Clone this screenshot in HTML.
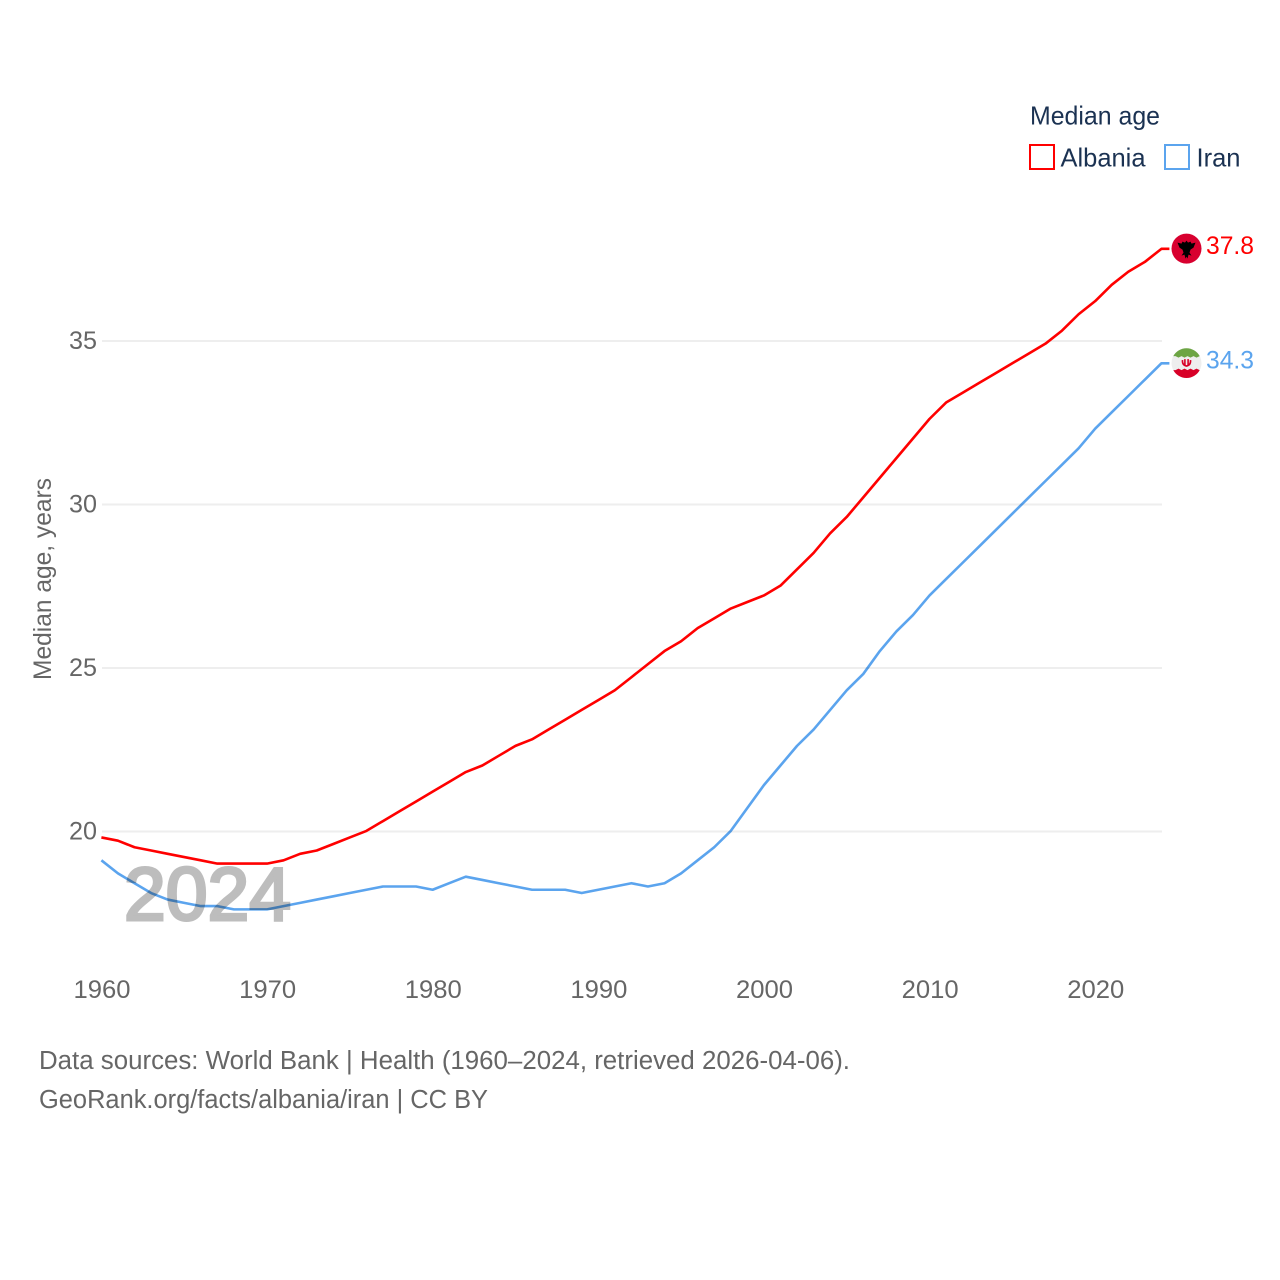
<!DOCTYPE html>
<html lang="en">
<head>
<meta charset="utf-8">
<title>Median age: Albania and Iran</title>
<style>
html,body{margin:0;padding:0;background:#fff;width:1280px;height:1280px;overflow:hidden}
svg{display:block;font-family:"Liberation Sans",sans-serif}
</style>
</head>
<body>
<svg id="chart" width="1280" height="1280" viewBox="0 0 1280 1280" xmlns="http://www.w3.org/2000/svg">
  <g id="grid"></g>
  <text id="year-watermark" x="124" y="920" font-size="75" fill="#bdbdbd" stroke="#bdbdbd" stroke-width="3" textLength="167" lengthAdjust="spacingAndGlyphs">2024</text>
  <g id="y-ticks"></g>
  <g id="x-ticks"></g>
  <text transform="translate(51,680) rotate(-90)" font-size="25" fill="#666" textLength="202" lengthAdjust="spacingAndGlyphs">Median age, years</text>
  <g id="series" transform="translate(-0.6,-0.6)"></g>
  <g id="end-markers"></g>

  <g>
    <text x="1030" y="124.5" font-size="26" fill="#1b3252" textLength="130" lengthAdjust="spacingAndGlyphs">Median age</text>
    <rect x="1030" y="145" width="24" height="24" fill="none" stroke="#ff0000" stroke-width="2"/>
    <text x="1060.5" y="166.5" font-size="26" fill="#1b3252" textLength="85" lengthAdjust="spacingAndGlyphs">Albania</text>
    <rect x="1165" y="145" width="24" height="24" fill="none" stroke="#5ba4ee" stroke-width="2"/>
    <text x="1196.5" y="166.5" font-size="26" fill="#1b3252" textLength="44" lengthAdjust="spacingAndGlyphs">Iran</text>
  </g>

  <g>
    <text x="39" y="1069" font-size="25.5" fill="#666" textLength="811" lengthAdjust="spacingAndGlyphs">Data sources: World Bank | Health (1960–2024, retrieved 2026-04-06).</text>
    <text x="39" y="1108" font-size="25.5" fill="#666" textLength="449" lengthAdjust="spacingAndGlyphs">GeoRank.org/facts/albania/iran | CC BY</text>
  </g>
</svg>
<script>
const years = [1960,1961,1962,1963,1964,1965,1966,1967,1968,1969,1970,1971,1972,1973,1974,1975,1976,1977,1978,1979,1980,1981,1982,1983,1984,1985,1986,1987,1988,1989,1990,1991,1992,1993,1994,1995,1996,1997,1998,1999,2000,2001,2002,2003,2004,2005,2006,2007,2008,2009,2010,2011,2012,2013,2014,2015,2016,2017,2018,2019,2020,2021,2022,2023,2024];
const albaniaValues = [19.8,19.7,19.5,19.4,19.3,19.2,19.1,19.0,19.0,19.0,19.0,19.1,19.3,19.4,19.6,19.8,20.0,20.3,20.6,20.9,21.2,21.5,21.8,22.0,22.3,22.6,22.8,23.1,23.4,23.7,24.0,24.3,24.7,25.1,25.5,25.8,26.2,26.5,26.8,27.0,27.2,27.5,28.0,28.5,29.1,29.6,30.2,30.8,31.4,32.0,32.6,33.1,33.4,33.7,34.0,34.3,34.6,34.9,35.3,35.8,36.2,36.7,37.1,37.4,37.8];
const iranValues = [19.1,18.7,18.4,18.1,17.9,17.8,17.7,17.7,17.6,17.6,17.6,17.7,17.8,17.9,18.0,18.1,18.2,18.3,18.3,18.3,18.2,18.4,18.6,18.5,18.4,18.3,18.2,18.2,18.2,18.1,18.2,18.3,18.4,18.3,18.4,18.7,19.1,19.5,20.0,20.7,21.4,22.0,22.6,23.1,23.7,24.3,24.8,25.5,26.1,26.6,27.2,27.7,28.2,28.7,29.2,29.7,30.2,30.7,31.2,31.7,32.3,32.8,33.3,33.8,34.3];
const yTickLabels = [20,25,30,35];
const xTickLabels = [1960,1970,1980,1990,2000,2010,2020];

const SVG_NS = 'http://www.w3.org/2000/svg';
const PLOT_LEFT = 102, PLOT_RIGHT = 1162;
const xScale = year => PLOT_LEFT + (year - 1960) * (PLOT_RIGHT - PLOT_LEFT) / 64;
const yScale = value => 831.5 - (value - 20) * 32.7;

function make(tag, attrs, parent, text) {
  const el = document.createElementNS(SVG_NS, tag);
  for (const k in attrs) el.setAttribute(k, attrs[k]);
  if (text !== undefined) el.textContent = text;
  parent.appendChild(el);
  return el;
}

const grid = document.getElementById('grid');
const yTicks = document.getElementById('y-ticks');
yTickLabels.forEach(v => {
  const line = make('line', {x1: PLOT_LEFT, x2: PLOT_RIGHT, y1: yScale(v), y2: yScale(v), stroke: '#eeeeee', 'stroke-width': 2}, grid);
  
  
  const label = make('text', {x: 69, y: yScale(v) + 8, 'font-size': 25, fill: '#666', textLength: 28, lengthAdjust: 'spacingAndGlyphs'}, yTicks, String(v));
  
  
});

const xTicks = document.getElementById('x-ticks');
xTickLabels.forEach(y => {
  const label = make('text', {x: xScale(y), y: 998, 'font-size': 25, fill: '#666', 'text-anchor': 'middle', textLength: 57, lengthAdjust: 'spacingAndGlyphs'}, xTicks, String(y));
  
  
});

function linePath(values) {
  const pts = values.map((v, i) => xScale(years[i]).toFixed(2) + ',' + yScale(v).toFixed(2));
  pts.push((PLOT_RIGHT + 8) + ',' + yScale(values[values.length - 1]).toFixed(2));
  return 'M' + pts.join('L');
}

const series = document.getElementById('series');
const iranLine = make('path', {d: linePath(iranValues), fill: 'none', stroke: '#5ba4ee', 'stroke-width': 2.6, 'stroke-linejoin': 'round', style: 'mix-blend-mode:multiply'}, series);


const albaniaLine = make('path', {d: linePath(albaniaValues), fill: 'none', stroke: '#ff0000', 'stroke-width': 2.6, 'stroke-linejoin': 'round'}, series);



const markers = document.getElementById('end-markers');
const MARKER_X = 1186.5;

// Albania flag marker
const albaniaY = yScale(albaniaValues[albaniaValues.length - 1]);
const albaniaFlag = make('g', {transform: 'translate(' + MARKER_X + ',' + (albaniaY - 0.8) + ')'}, markers);


make('circle', {r: 15, fill: '#d8002f'}, albaniaFlag);
make('path', {d: 'M-9,-6 L-5,-5 L-4,-7 L-1.5,-6 L0,-8 L1.5,-6 L4,-7 L5,-5 L9,-6 L7,-1 L4,1 L3,4 L5,7 L2,6 L1,10 L0,8 L-1,10 L-2,6 L-5,7 L-3,4 L-4,1 L-7,-1 Z', fill: '#000'}, albaniaFlag);
const albaniaValueLabel = make('text', {x: 1206, y: albaniaY + 4.5, 'font-size': 25, fill: '#ff0000', textLength: 48, lengthAdjust: 'spacingAndGlyphs'}, markers, albaniaValues[albaniaValues.length - 1].toFixed(1));



// Iran flag marker
const iranY = yScale(iranValues[iranValues.length - 1]);
const iranFlag = make('g', {transform: 'translate(' + MARKER_X + ',' + (iranY - 0.8) + ')'}, markers);


make('circle', {r: 15, fill: '#eeeeee'}, iranFlag);
make('path', {d: 'M-13.2,-7 A15,15 0 0 1 13.2,-7 L10,-5.5 L7,-7 L4,-5.5 L1,-7 L-2,-5.5 L-5,-7 L-8,-5.5 L-11,-7 Z', fill: '#6da544'}, iranFlag);
make('path', {d: 'M-13.2,7 A15,15 0 0 0 13.2,7 L10,5.5 L7,7 L4,5.5 L1,7 L-2,5.5 L-5,7 L-8,5.5 L-11,7 Z', fill: '#d80027'}, iranFlag);
make('path', {d: 'M-4,-3 Q-4.5,2 0,3 Q4.5,2 4,-3 M-1.6,-4 V3 M1.6,-4 V3', fill: 'none', stroke: '#d80027', 'stroke-width': 1.6}, iranFlag);
const iranValueLabel = make('text', {x: 1206, y: iranY + 4.5, 'font-size': 25, fill: '#5ba4ee', textLength: 48, lengthAdjust: 'spacingAndGlyphs'}, markers, iranValues[iranValues.length - 1].toFixed(1));


</script>
</body>
</html>
